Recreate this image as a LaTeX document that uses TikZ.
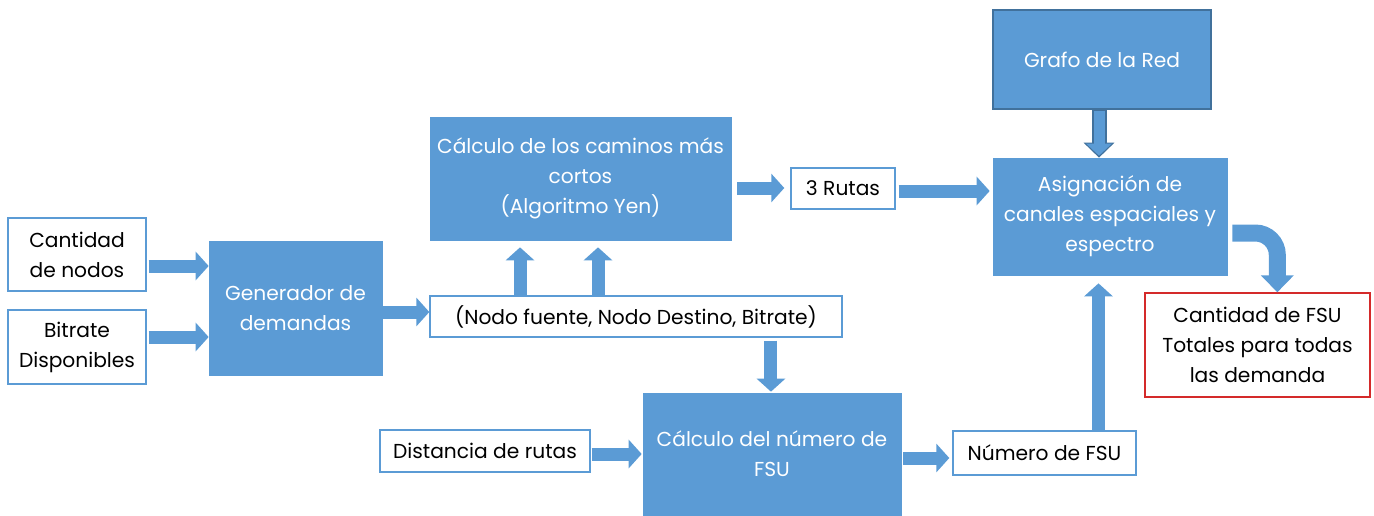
\documentclass[tikz,border=0pt]{standalone}
\usepackage{fontspec}
\setmainfont{Poppins}
\usepackage{tikz}
\usetikzlibrary{arrows.meta}
\definecolor{azul}{HTML}{5B9BD5}
\definecolor{azulosc}{HTML}{41719C}
\definecolor{rojo}{HTML}{D42A2A}

\begin{document}
\begin{tikzpicture}[x=0.02cm, y=0.02cm, font=\fontsize{11.5}{17}\selectfont]
\useasboundingbox (0,0) rectangle (1374,-515);

\begin{scope}[every node/.style={rectangle, align=center, inner sep=2pt}]
\tikzset{bloque/.style={fill=azul, draw=azul, text=white},
         dato/.style={fill=white, draw=azul, line width=0.8pt, text=black},
         resultado/.style={fill=white, draw=rojo, line width=0.8pt, text=black}}
\node (cant) at (77, -254.5) [dato, minimum width=2.76cm, minimum height=1.46cm] {Cantidad\\de nodos};
\node (bitr) at (77, -347) [dato, minimum width=2.76cm, minimum height=1.48cm] {Bitrate\\Disponibles};
\node (gen) at (295.5, -308) [bloque, minimum width=3.46cm, minimum height=2.68cm] {Generador de\\demandas};
\node (tupla) at (636, -316.5) [dato, minimum width=8.24cm, minimum height=0.82cm] {(Nodo fuente, Nodo Destino, Bitrate)};
\node (yen) at (580.5, -178.5) [bloque, minimum width=6.02cm, minimum height=2.46cm] {Cálculo de los caminos más\\cortos\\(Algoritmo Yen)};
\node (rutas) at (843, -188.5) [dato, minimum width=2.08cm, minimum height=0.82cm] {3 Rutas};
\node (grafo) at (1102, -59.5) [bloque, draw=azulosc, line width=0.8pt, minimum width=4.36cm, minimum height=1.98cm] {Grafo de la Red};
\node (asig) at (1110, -216.5) [bloque, minimum width=4.68cm, minimum height=2.34cm] {Asignación de\\canales espaciales y\\espectro};
\node (total) at (1257.5, -345) [resultado, minimum width=4.5cm, minimum height=2.08cm] {Cantidad de FSU\\Totales para todas\\las demanda};
\node (fsu) at (772, -454) [bloque, minimum width=5.16cm, minimum height=2.44cm] {Cálculo del número de\\FSU};
\node (dist) at (485, -451) [dato, minimum width=4.2cm, minimum height=0.84cm] {Distancia de rutas};
\node (num) at (1044.5, -453) [dato, minimum width=3.66cm, minimum height=0.88cm] {Número de FSU};
\end{scope}

\begin{scope}[draw=azul, line width=0.26cm, -{Triangle[width=0.56cm, length=0.26cm]}]
\draw [shorten <=0.04cm] ([yshift=-0.23cm]cant.east) coordinate (c1) -- (c1 -| gen.west);
\draw [shorten <=0.04cm] ([yshift=0.2cm]bitr.east) coordinate (c2) -- (c2 -| gen.west);
\draw [shorten <=0.02cm] ([yshift=-0.08cm]gen.east) coordinate (c3) -- (c3 -| tupla.west);
\draw [shorten >=0.14cm] ([xshift=-2.32cm]tupla.north) coordinate (c4) -- (c4 |- yen.south);
\draw [shorten >=0.14cm] ([xshift=-0.76cm]tupla.north) coordinate (c5) -- (c5 |- yen.south);
\draw [shorten <=0.12cm, shorten >=0.12cm] ([yshift=-0.19cm]yen.east) coordinate (c6) -- (c6 -| rutas.west);
\draw [shorten <=0.06cm, shorten >=0.06cm] ([yshift=-0.05cm]rutas.east) coordinate (c7) -- (c7 -| asig.west);
\draw [draw=azulosc, line width=0.3cm, -{Triangle[width=0.6cm, length=0.3cm]}] ([xshift=-0.06cm]grafo.south) coordinate (c13) -- (c13 |- asig.north);
\draw [line width=0.22cm, -{Triangle[width=0.5cm, length=0.24cm]}, shorten <=0.02cm, shorten >=0.04cm] (c13) -- (c13 |- asig.north);
\draw [shorten <=0.06cm, shorten >=0.02cm] ([xshift=2.7cm]tupla.south) coordinate (c8) -- (c8 |- fsu.north);
\draw [shorten <=0.02cm, shorten >=0.02cm] ([yshift=-0.06cm]dist.east) coordinate (c9) -- (c9 -| fsu.west);
\draw [shorten <=0.04cm, shorten >=0.06cm] ([yshift=-0.08cm]fsu.east) coordinate (c10) -- (c10 -| num.west);
\draw [shorten >=0.16cm] ([xshift=1.08cm]num.north) coordinate (c11) -- (c11 |- asig.south);
\draw [line width=0.34cm, -{Triangle[width=0.64cm, length=0.34cm]}, shorten <=0.1cm] ([yshift=-0.33cm]asig.east) -- ++(28,0) arc[start angle=90, end angle=0, radius=0.44cm] coordinate (c12) -- (c12 |- total.north);
\end{scope}

\end{tikzpicture}
\end{document}
